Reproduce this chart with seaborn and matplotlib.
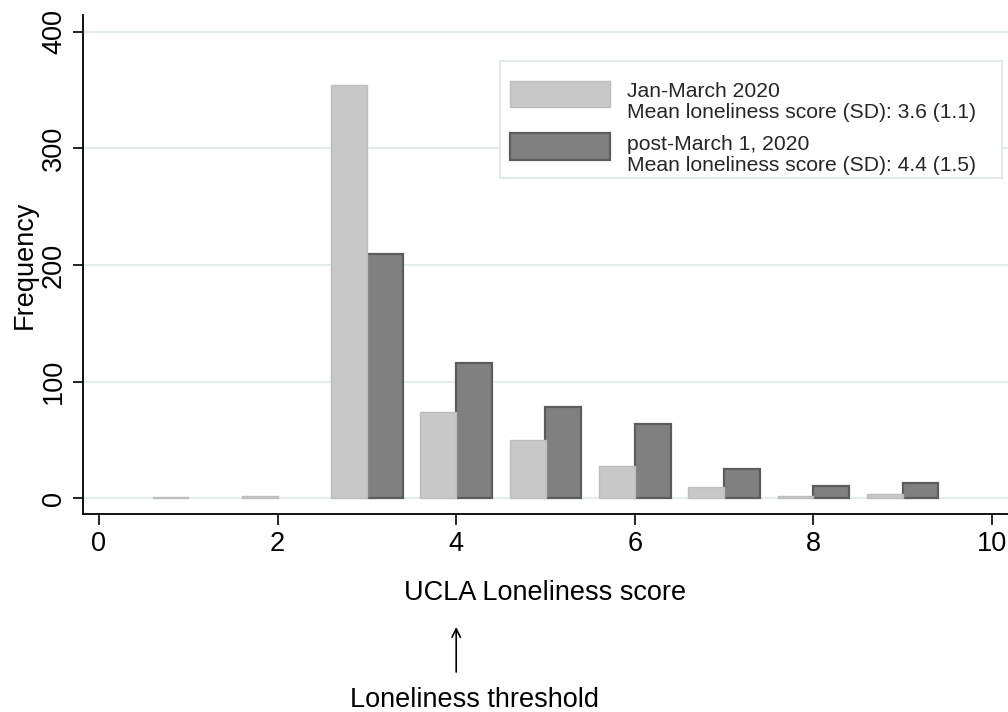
import numpy as np
import pandas as pd
import matplotlib
matplotlib.use("Agg")
import matplotlib.pyplot as plt
import seaborn as sns
from matplotlib.patches import Rectangle
from matplotlib.legend_handler import HandlerPatch

# ---- data ----
scores = [1, 2, 3, 4, 5, 6, 7, 8, 9]
freq_pre = [1, 2, 354, 74, 50, 28, 10, 2, 4]
freq_post = [0, 0, 209, 116, 78, 64, 25, 11, 13]
periods = ["Jan-March 2020", "post-March 1, 2020"]
legend_labels = [
    "Jan-March 2020\nMean loneliness score (SD): 3.6 (1.1)",
    "post-March 1, 2020\nMean loneliness score (SD): 4.4 (1.5)",
]
y_ticks = [0, 100, 200, 300, 400]
x_ticks = [0, 2, 4, 6, 8, 10]
x_label = "UCLA Loneliness score"
y_label = "Frequency"
note_text = "Loneliness threshold"
note_x = 4

LIGHT, LIGHT_EDGE = "#c8c8c8", "#bdbdbd"
DARK, DARK_EDGE = "#808080", "#5c5c5c"

sns.set_theme(style="white")
plt.rcParams["font.family"] = ["Liberation Sans", "DejaVu Sans"]

W, H = 1008, 712
fig = plt.figure(figsize=(W / 100, H / 100), dpi=100)
ax_l, ax_r, ax_t, ax_b = 83, 1008, 15, 514
ax = fig.add_axes([ax_l / W, (H - ax_b) / H, (ax_r - ax_l) / W, (ax_b - ax_t) / H])

df = pd.DataFrame({
    "score": scores * 2,
    "freq": freq_pre + freq_post,
    "period": [periods[0]] * len(scores) + [periods[1]] * len(scores),
})

sns.histplot(data=df, x="score", weights="freq", hue="period", hue_order=periods,
             multiple="dodge", discrete=True, shrink=0.8,
             palette=[LIGHT, DARK], alpha=1, legend=False, ax=ax, zorder=3)

# style the two bar groups
conts = sorted(ax.containers, key=lambda c: c.patches[0].get_x())
styles = [(LIGHT, LIGHT_EDGE, 1.0), (DARK, DARK_EDGE, 1.6)]
for cont, (fc, ec, lw) in zip(conts, styles):
    for p in cont.patches:
        p.set_facecolor(fc)
        p.set_edgecolor(ec)
        p.set_linewidth(lw if p.get_height() > 0 else 0)

X0, XS = 99.0, 89.3      # pixel of x=0, pixels per unit
Y0, YS = 498.4, 1.167    # pixel of y=0, pixels per unit
ax.set_xlim((ax_l - X0) / XS, (ax_r - X0) / XS)
ax.set_ylim((Y0 - ax_b) / YS, (Y0 - ax_t) / YS)
ax.set_xticks(x_ticks)
ax.set_yticks(y_ticks)
ax.set_axisbelow(True)
ax.yaxis.grid(True, color="#e4ecee", lw=1.5)
ax.xaxis.grid(False)
for s in ["top", "right"]:
    ax.spines[s].set_visible(False)
for s in ["left", "bottom"]:
    ax.spines[s].set_color("black")
    ax.spines[s].set_linewidth(1.3)

ax.tick_params(axis="both", direction="out", width=1.2, color="black",
               labelsize=19.5, labelcolor="black", bottom=True, left=True)
ax.tick_params(axis="x", length=8, pad=4)
ax.tick_params(axis="y", length=7.2, pad=4.3)
for lbl in ax.get_yticklabels():
    lbl.set_rotation(90)
    lbl.set_va("center")

ax.set_xlabel(x_label, fontsize=19.5, color="black", labelpad=17)
ax.set_ylabel(y_label, fontsize=19.5, color="black", labelpad=2)

# legend frame (white box, drawn over the grid)
frame = Rectangle((500 / W, 1 - 178 / H), 502 / W, 117 / H, transform=fig.transFigure,
                  facecolor="white", edgecolor="#dde5e8", lw=1.2, zorder=4, clip_on=False)
ax.add_patch(frame)

def first_line_patch(legend, orig_handle, xdescent, ydescent, width, height, fontsize):
    return Rectangle((-xdescent, -ydescent + 6.5), width, height)

FS = 15.2
handles = [conts[0].patches[2], conts[1].patches[2]]
leg = ax.legend(handles, legend_labels, loc="upper left",
                bbox_to_anchor=(510 / W, 1 - 82.4 / H), bbox_transform=fig.transFigure,
                fontsize=FS, frameon=False, borderpad=0,
                handlelength=72 / FS, handleheight=1.578, handletextpad=12.24 / FS,
                labelspacing=0.58, borderaxespad=0,
                handler_map={Rectangle: HandlerPatch(patch_func=first_line_patch)})
leg.set_zorder(5)
for t in leg.get_texts():
    t.set_linespacing(1.14)

# threshold annotation below the axis
ax.annotate("", xy=(note_x, (H - 627) / H), xytext=(note_x, (H - 672) / H),
            xycoords=("data", "figure fraction"), textcoords=("data", "figure fraction"),
            annotation_clip=False,
            arrowprops=dict(arrowstyle="->,head_length=0.5,head_width=0.25", lw=1.2,
                            color="black", shrinkA=0, shrinkB=0))
ax.text((475 - X0) / XS, (H - 706.7) / H, note_text,
        transform=matplotlib.transforms.blended_transform_factory(ax.transData, fig.transFigure),
        ha="center", va="baseline", fontsize=19.5, color="black", clip_on=False)

fig.savefig("out.png", dpi=100)
